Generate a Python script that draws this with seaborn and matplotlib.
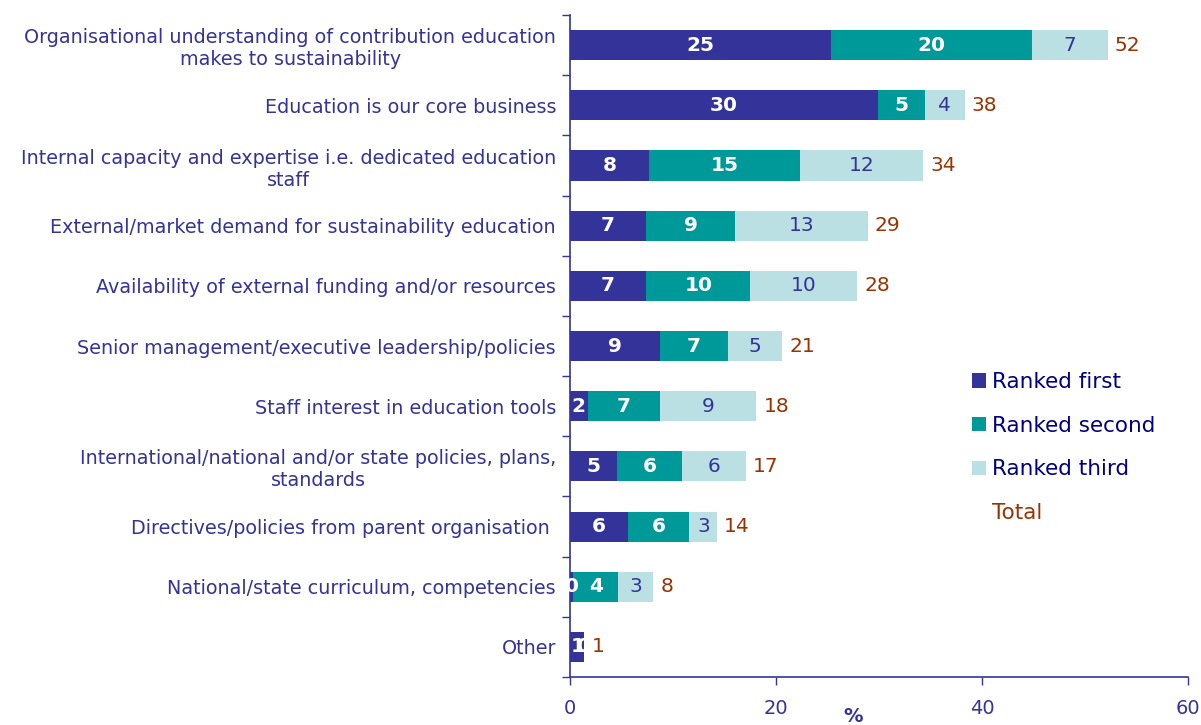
import matplotlib
matplotlib.use("Agg")
import matplotlib.pyplot as plt
from matplotlib.patches import Patch
import numpy as np
import pandas as pd
import seaborn as sns

# Factors behind education for sustainability, share of respondents (%)
categories = [
    "Organisational understanding of contribution education\nmakes to sustainability",
    "Education is our core business",
    "Internal capacity and expertise i.e. dedicated education\nstaff",
    "External/market demand for sustainability education",
    "Availability of external funding and/or resources",
    "Senior management/executive leadership/policies",
    "Staff interest in education tools",
    "International/national and/or state policies, plans,\nstandards",
    "Directives/policies from parent organisation ",
    "National/state curriculum, competencies",
    "Other",
]
ranked_first = [25.3, 29.9, 7.7, 7.4, 7.4, 8.7, 1.7, 4.6, 5.6, 0.3, 1.4]
ranked_second = [19.6, 4.6, 14.6, 8.6, 10.1, 6.6, 7.0, 6.3, 6.0, 4.4, 0.0]
ranked_third = [7.3, 3.8, 12.0, 12.9, 10.4, 5.3, 9.4, 6.2, 2.7, 3.4, 0.0]

series_names = ["Ranked first", "Ranked second", "Ranked third"]
xticks = [0, 20, 40, 60]

C_FIRST = "#333399"
C_SECOND = "#009999"
C_THIRD = "#BBE0E3"
C_TEXT = "#333399"
C_LEGEND = "#000080"
C_TOTAL = "#993300"

df = pd.DataFrame({
    "category": categories,
    "first": ranked_first,
    "second": ranked_second,
    "third": ranked_third,
})
df["cum1"] = df["first"]
df["cum2"] = df["cum1"] + df["second"]
df["cum3"] = df["cum2"] + df["third"]

sns.set_theme(style="white")
plt.rcParams["font.family"] = ["DejaVu Sans"]

fig = plt.figure(figsize=(12.01, 7.25), dpi=100)
ax = fig.add_axes([0.4746, 0.0662, 0.5146, 0.913])

# Stacked bars: draw the cumulative totals back to front
for col, color in [("cum3", C_THIRD), ("cum2", C_SECOND), ("cum1", C_FIRST)]:
    sns.barplot(data=df, x=col, y="category", color=color, width=0.5,
                orient="h", ax=ax, saturation=1, linewidth=0)

ax.set_xlim(0, 60)
ax.set_ylim(len(categories) - 0.5, -0.5)
ax.set_xticks(xticks)
ax.set_xticklabels([str(t) for t in xticks])

# Value labels inside segments and totals at the bar ends
fs = 14.5
for i, row in df.iterrows():
    ax.text(row["first"] / 2, i, f"{round(row['first'])}", ha="center", va="center",
            color="white", fontweight="bold", fontsize=fs)
    ax.text(row["cum1"] + row["second"] / 2, i, f"{round(row['second'])}", ha="center",
            va="center", color="white", fontweight="bold", fontsize=fs)
    if row["third"] > 0:
        ax.text(row["cum2"] + row["third"] / 2, i, f"{round(row['third'])}", ha="center",
                va="center", color=C_TEXT, fontsize=fs)
    ax.annotate(f"{round(row['cum3'])}", xy=(row["cum3"], i), xytext=(5, 0),
                textcoords="offset points", ha="left", va="center",
                color=C_TOTAL, fontsize=fs)

# Axes styling
for side in ["top", "right"]:
    ax.spines[side].set_visible(False)
for side in ["left", "bottom"]:
    ax.spines[side].set_color(C_TEXT)
    ax.spines[side].set_linewidth(1.2)

ax.set_ylabel("")
ax.set_xlabel("%", fontweight="bold", color=C_TEXT, fontsize=14)
ax.xaxis.set_label_coords(0.458, -0.045)

ax.tick_params(axis="x", colors=C_TEXT, labelcolor=C_TEXT, labelsize=14,
               direction="out", length=6, width=1, pad=10, bottom=True)
ax.tick_params(axis="y", which="major", length=0, pad=10, labelcolor=C_TEXT,
               labelsize=13.8)
ax.set_yticks(np.arange(-0.5, len(categories), 1.0), minor=True)
ax.tick_params(axis="y", which="minor", left=True, length=6, width=1,
               color=C_TEXT, direction="out")
for lbl in ax.get_yticklabels():
    lbl.set_multialignment("center")

# Legend with the three ranks and a text-only entry for the total
handles = [Patch(facecolor=c, edgecolor="none") for c in (C_FIRST, C_SECOND, C_THIRD)]
handles.append(Patch(facecolor="none", edgecolor="none"))
leg = ax.legend(handles, series_names + ["Total"], loc="upper left",
                bbox_to_anchor=(0.619, 0.49), frameon=False, fontsize=15.5,
                handlelength=0.65, handleheight=0.65, handletextpad=0.3,
                labelspacing=1.1)
for t in leg.get_texts()[:3]:
    t.set_color(C_LEGEND)
leg.get_texts()[3].set_color(C_TOTAL)

fig.savefig("out.png", dpi=100)
